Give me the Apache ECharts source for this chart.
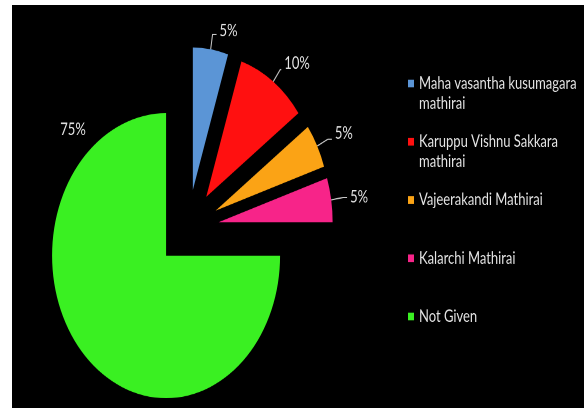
<!DOCTYPE html>
<html>
<head>
<meta charset="utf-8">
<script src="https://cdn.jsdelivr.net/npm/echarts@6/dist/echarts.min.js"></script>
<style>
  html, body { margin: 0; padding: 0; background: #fff; }
  #page { position: relative; width: 584px; height: 408px; overflow: hidden; background: #fff; }
  /* the chart is drawn on a shorter canvas and stretched vertically */
  #chart { position: absolute; left: 12px; top: 5px; width: 572px; height: 322.4px;
           transform: scaleY(1.25); transform-origin: 0 0; }
</style>
</head>
<body>
<div id="page"><div id="chart"></div></div>
<script>
// Slice names (legend wraps the long ones onto a second line)
const categories = [
  'Maha vasantha kusumagara\nmathirai',
  'Karuppu Vishnu Sakkara\nmathirai',
  'Vajeerakandi Mathirai',
  'Kalarchi Mathirai',
  'Not Given'
];
// Share of each group, in percent
const shares = [5, 10, 5, 5, 75];
const sliceColors = ['#5b95d6', '#ff1010', '#fba315', '#f72489', '#3af022'];
// second leg of each leader line
const leaderTails = [4, 1, 4, 4, 0];
// line spacing used to lift a percentage label above its leader's end
const labelLift = [5, 10, 9, 0, 0];

const textFont = 'Lato, "Open Sans", sans-serif';
const labelColor = '#e6e6e6';

const chart = echarts.init(document.getElementById('chart'), null, { renderer: 'canvas', devicePixelRatio: 2 });

chart.setOption({
  backgroundColor: '#000',
  animation: false,
  legend: {
    orient: 'vertical',
    left: 396,
    top: 38.8,
    padding: 0,
    itemGap: -1.4,
    itemWidth: 6,
    itemHeight: 6,
    icon: 'rect',
    selectedMode: false,
    data: categories,
    // each entry is three lines with a blank first one, so the swatch
    // (centred on the block) lines up with the entry's first text line
    formatter: name => ' \n' + (name.indexOf('\n') >= 0 ? name : name + '\n '),
    textStyle: {
      color: labelColor,
      fontFamily: textFont,
      fontSize: 13,
      lineHeight: 16
    }
  },
  // the large slice's percentage sits above-left of the pie, without a leader
  graphic: [{
    type: 'text',
    x: 61,
    y: 100,
    silent: true,
    style: {
      text: shares[4] + '%',
      fill: labelColor,
      font: '13px ' + textFont,
      align: 'center',
      verticalAlign: 'middle'
    }
  }],
  series: [{
    type: 'pie',
    center: [176, 178.6],
    radius: 114,
    startAngle: 90,
    clockwise: true,
    selectedMode: 'multiple',
    selectedOffset: 31,
    avoidLabelOverlap: false,
    emphasis: { disabled: true },
    label: {
      show: true,
      position: 'outside',
      color: labelColor,
      fontFamily: textFont,
      fontSize: 13,
      distanceToLabelLine: 3,
      formatter: p => p.value + '%' + (labelLift[p.dataIndex] ? '\n ' : '')
    },
    labelLine: {
      show: true,
      length: 12,
      length2: 4,
      smooth: false,
      lineStyle: { color: '#c8c8c8', width: 1 }
    },
    data: categories.map((name, i) => ({
      name: name,
      value: shares[i],
      selected: true,
      itemStyle: { color: sliceColors[i] },
      label: i === 4 ? { show: false } : (labelLift[i] ? { lineHeight: labelLift[i] } : undefined),
      labelLine: i === 4 ? { show: false } : { length2: leaderTails[i] }
    }))
  }]
});
</script>
</body>
</html>
